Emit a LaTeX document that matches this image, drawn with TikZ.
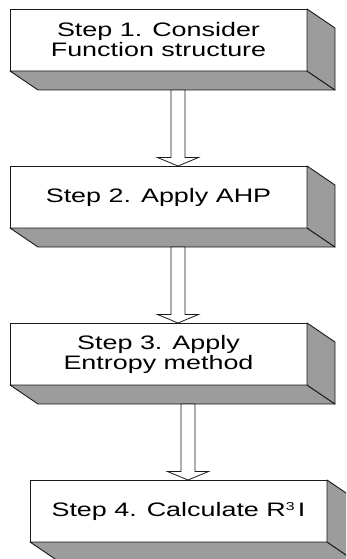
\documentclass[tikz,border=0pt]{standalone}
\usepackage{fontspec}
\setmainfont[FakeStretch=1.38]{Liberation Sans}
\usetikzlibrary{positioning,calc}
\definecolor{Ink}{HTML}{1A1A1A}
\definecolor{ShadeGray}{HTML}{9C9C9C}
\tikzset{
  step box/.style={draw=Ink, fill=white, line width=0.9pt,
    minimum width=297pt, minimum height=62pt, inner sep=0pt, outer sep=0pt,
    align=center, text=black, font=\fontsize{19.5}{20}\selectfont},
  step depth/.style={draw=Ink, fill=ShadeGray, line width=0.9pt, line join=round},
  block arrow/.style={draw=Ink, fill=white, line width=0.8pt, line join=miter},
}
\newcommand{\depthx}{28pt}
\newcommand{\depthy}{19pt}
% hollow block arrow: from box, to box, sideways shift
\newcommand{\blockarrow}[3]{%
  \draw[block arrow] let \p1=([xshift=#3]#2.north), \p2=([yshift=-\depthy]#1.south) in
    (\x1-7pt,\y2) -- (\x1-7pt,\y1+8.5pt) -- (\x1-20.5pt,\y1+8.5pt) -- (\x1,\y1)
    -- (\x1+20.5pt,\y1+8.5pt) -- (\x1+7pt,\y1+8.5pt) -- (\x1+7pt,\y2) -- cycle;}

\begin{document}
\begin{tikzpicture}[node distance=95pt]
  \clip (-10pt,9pt) rectangle (336pt,-550pt);

  \node[step box, anchor=north west] (consider) at (0,0) {Step 1. Consider\\Function structure};
  \node[step box, below=of consider] (ahp) {Step 2. Apply AHP};
  \node[step box, below=of ahp] (entropy) {Step 3. Apply\\Entropy method};
  \node[step box, below=of entropy, xshift=20pt] (rthree)
    {Step 4. Calculate R\raisebox{5.5pt}{\fontsize{11.5}{12}\selectfont 3}\,I};

  % shaded bottom and side faces give the boxes their depth
  \filldraw[step depth] (consider.south west) -- ++(\depthx,-\depthy)
    -- ([shift={(\depthx,-\depthy)}]consider.south east) -- (consider.south east) -- cycle;
  \filldraw[step depth] (consider.north east) -- ++(\depthx,-\depthy)
    -- ([shift={(\depthx,-\depthy)}]consider.south east) -- (consider.south east) -- cycle;
  \filldraw[step depth] (ahp.south west) -- ++(\depthx,-\depthy)
    -- ([shift={(\depthx,-\depthy)}]ahp.south east) -- (ahp.south east) -- cycle;
  \filldraw[step depth] (ahp.north east) -- ++(\depthx,-\depthy)
    -- ([shift={(\depthx,-\depthy)}]ahp.south east) -- (ahp.south east) -- cycle;
  \filldraw[step depth] (entropy.south west) -- ++(\depthx,-\depthy)
    -- ([shift={(\depthx,-\depthy)}]entropy.south east) -- (entropy.south east) -- cycle;
  \filldraw[step depth] (entropy.north east) -- ++(\depthx,-\depthy)
    -- ([shift={(\depthx,-\depthy)}]entropy.south east) -- (entropy.south east) -- cycle;
  \filldraw[step depth] (rthree.south west) -- ++(\depthx,-\depthy)
    -- ([shift={(\depthx,-\depthy)}]rthree.south east) -- (rthree.south east) -- cycle;
  \filldraw[step depth] (rthree.north east) -- ++(\depthx,-\depthy)
    -- ([shift={(\depthx,-\depthy)}]rthree.south east) -- (rthree.south east) -- cycle;

  \blockarrow{consider}{ahp}{19.5pt}
  \blockarrow{ahp}{entropy}{19.5pt}
  \blockarrow{entropy}{rthree}{9.5pt}
\end{tikzpicture}
\end{document}
